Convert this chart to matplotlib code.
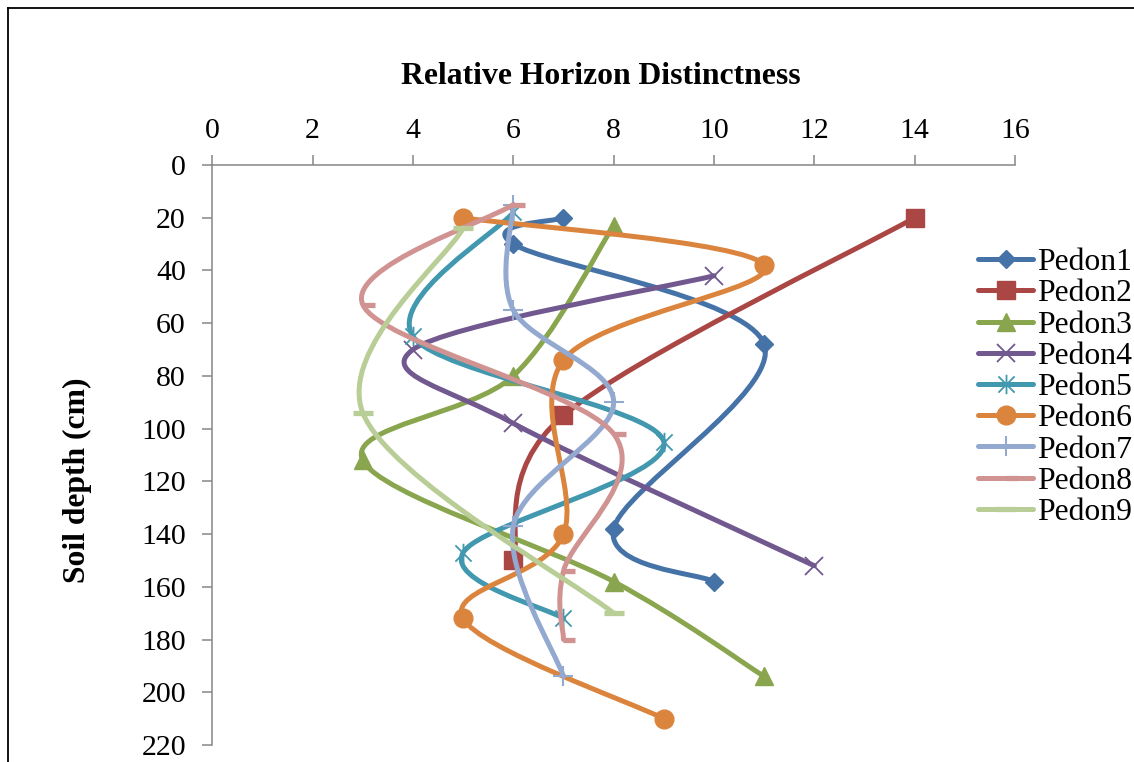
import matplotlib
matplotlib.use("Agg")
import matplotlib.pyplot as plt
import numpy as np
from matplotlib.path import Path
from matplotlib.patches import PathPatch
from matplotlib.lines import Line2D

plt.rcParams['font.family'] = ['Liberation Serif', 'DejaVu Serif']

# ---- data ----
series_names = ["Pedon1", "Pedon2", "Pedon3", "Pedon4", "Pedon5",
                "Pedon6", "Pedon7", "Pedon8", "Pedon9"]
pedon1_x = [7, 6, 11, 8, 10]
pedon1_y = [20, 30, 68, 138, 158]
pedon2_x = [14, 7, 6]
pedon2_y = [20, 95, 150]
pedon3_x = [8, 6, 3, 8, 11]
pedon3_y = [23, 80, 112, 158, 194]
pedon4_x = [10, 4, 6, 12]
pedon4_y = [42, 70, 98, 152]
pedon5_x = [6, 4, 9, 5, 7]
pedon5_y = [18, 65, 105, 147, 172]
pedon6_x = [5, 11, 7, 7, 5, 9]
pedon6_y = [20, 38, 74, 140, 172, 210]
pedon7_x = [6, 6, 8, 6, 7]
pedon7_y = [15, 55, 90, 137, 194]
pedon8_x = [6, 3, 8, 7, 7]
pedon8_y = [15, 53, 102, 154, 180]
pedon9_x = [5, 3, 8]
pedon9_y = [24, 94, 170]
x_ticks = [0, 2, 4, 6, 8, 10, 12, 14, 16]
y_ticks = [0, 20, 40, 60, 80, 100, 120, 140, 160, 180, 200, 220]

xs = [pedon1_x, pedon2_x, pedon3_x, pedon4_x, pedon5_x, pedon6_x, pedon7_x, pedon8_x, pedon9_x]
ys = [pedon1_y, pedon2_y, pedon3_y, pedon4_y, pedon5_y, pedon6_y, pedon7_y, pedon8_y, pedon9_y]

colors = ['#4572A7', '#AA4643', '#89A54E', '#71588F', '#4198AF',
          '#DB843D', '#93A9CF', '#D19392', '#B9CD96']

asterisk = Path([(-1, -1), (1, 1), (-1, 1), (1, -1), (0, -1.2), (0, 1.2)],
                [Path.MOVETO, Path.LINETO, Path.MOVETO, Path.LINETO, Path.MOVETO, Path.LINETO])
half_dash = Path([(0, 0), (1, 0)], [Path.MOVETO, Path.LINETO])

# marker, size, edge width
mstyles = [
    ('D', 9.5, 1.0),
    ('s', 13.5, 1.0),
    ('^', 13.0, 1.0),
    ('x', 13.0, 1.3),
    (asterisk, 14.0, 1.3),
    ('o', 13.5, 1.0),
    ('+', 15.0, 1.5),
    (half_dash, 17.0, 3.8),
    ('_', 14.5, 3.8),
]


def smooth_path(x, y):
    pts = np.column_stack([x, y]).astype(float)
    n = len(pts)
    verts = [pts[0]]
    codes = [Path.MOVETO]
    for i in range(n - 1):
        p0 = pts[i - 1] if i > 0 else pts[i]
        p1 = pts[i]
        p2 = pts[i + 1]
        p3 = pts[i + 2] if i + 2 < n else pts[i + 1]
        c1 = p1 + (p2 - p0) / 6.0
        c2 = p2 - (p3 - p1) / 6.0
        verts += [c1, c2, p2]
        codes += [Path.CURVE4] * 3
    return Path(verts, codes)


W, H = 1134, 762
fig = plt.figure(figsize=(W / 100, H / 100), dpi=100)
ax = fig.add_axes([212.3 / W, 1 - 745 / H, (1015 - 212.3) / W, (745 - 165) / H])

lw = 3.6
handles = []
for i, (name, x, y, c, (m, ms, mew)) in enumerate(zip(series_names, xs, ys, colors, mstyles)):
    z = 2 + i
    patch = PathPatch(smooth_path(x, y), facecolor='none', edgecolor=c, lw=lw,
                      capstyle='round', joinstyle='round', zorder=z)
    ax.add_patch(patch)
    ax.plot(x, y, linestyle='none', marker=m, markersize=ms, markeredgewidth=mew,
            color=c, markerfacecolor=c, markeredgecolor=c, zorder=z + 0.5,
            clip_on=False)
    handles.append(Line2D([], [], color=c, lw=lw, solid_capstyle='round',
                          marker=m, markersize=ms, markeredgewidth=mew,
                          markerfacecolor=c, markeredgecolor=c))

ax.set_xlim(0, 16)
ax.set_ylim(220, 0)
ax.set_xticks(x_ticks)
ax.set_yticks(y_ticks)
ax.xaxis.tick_top()
axis_col = '#868686'
for s in ['right', 'bottom']:
    ax.spines[s].set_visible(False)
for s in ['top', 'left']:
    ax.spines[s].set_color(axis_col)
    ax.spines[s].set_linewidth(1.1)
ax.tick_params(axis='x', which='major', top=True, bottom=False, direction='out',
               length=7, width=1.1, color=axis_col, labelsize=21.5, pad=8)
ax.tick_params(axis='y', which='major', left=True, direction='out',
               length=7, width=1.1, color=axis_col, labelsize=21.5, pad=12)
ax.patch.set_visible(False)

fig.text(601 / W, 1 - 83.5 / H, "Relative Horizon Distinctness", ha='center', va='baseline',
         fontsize=22.8, fontweight='bold')
fig.text(77 / W, 1 - 480 / H, "Soil depth (cm)", ha='center', va='center',
         rotation=90, fontsize=22.8, fontweight='bold')

fig.legend(handles, series_names, loc='upper left', bbox_to_anchor=(978 / W, 1 - 248 / H),
           frameon=False, fontsize=22.8, handlelength=1.74, handletextpad=0.11,
           labelspacing=0.065, borderpad=0, borderaxespad=0, numpoints=1)

# chart border (left and top visible)
fig.add_artist(Line2D([7.5 / W, 7.5 / W], [0, 1 - 7.5 / H], transform=fig.transFigure,
                      color='black', lw=1.3))
fig.add_artist(Line2D([7.5 / W, 1], [1 - 7.5 / H, 1 - 7.5 / H], transform=fig.transFigure,
                      color='black', lw=1.3))

fig.savefig("out.png", dpi=100)
